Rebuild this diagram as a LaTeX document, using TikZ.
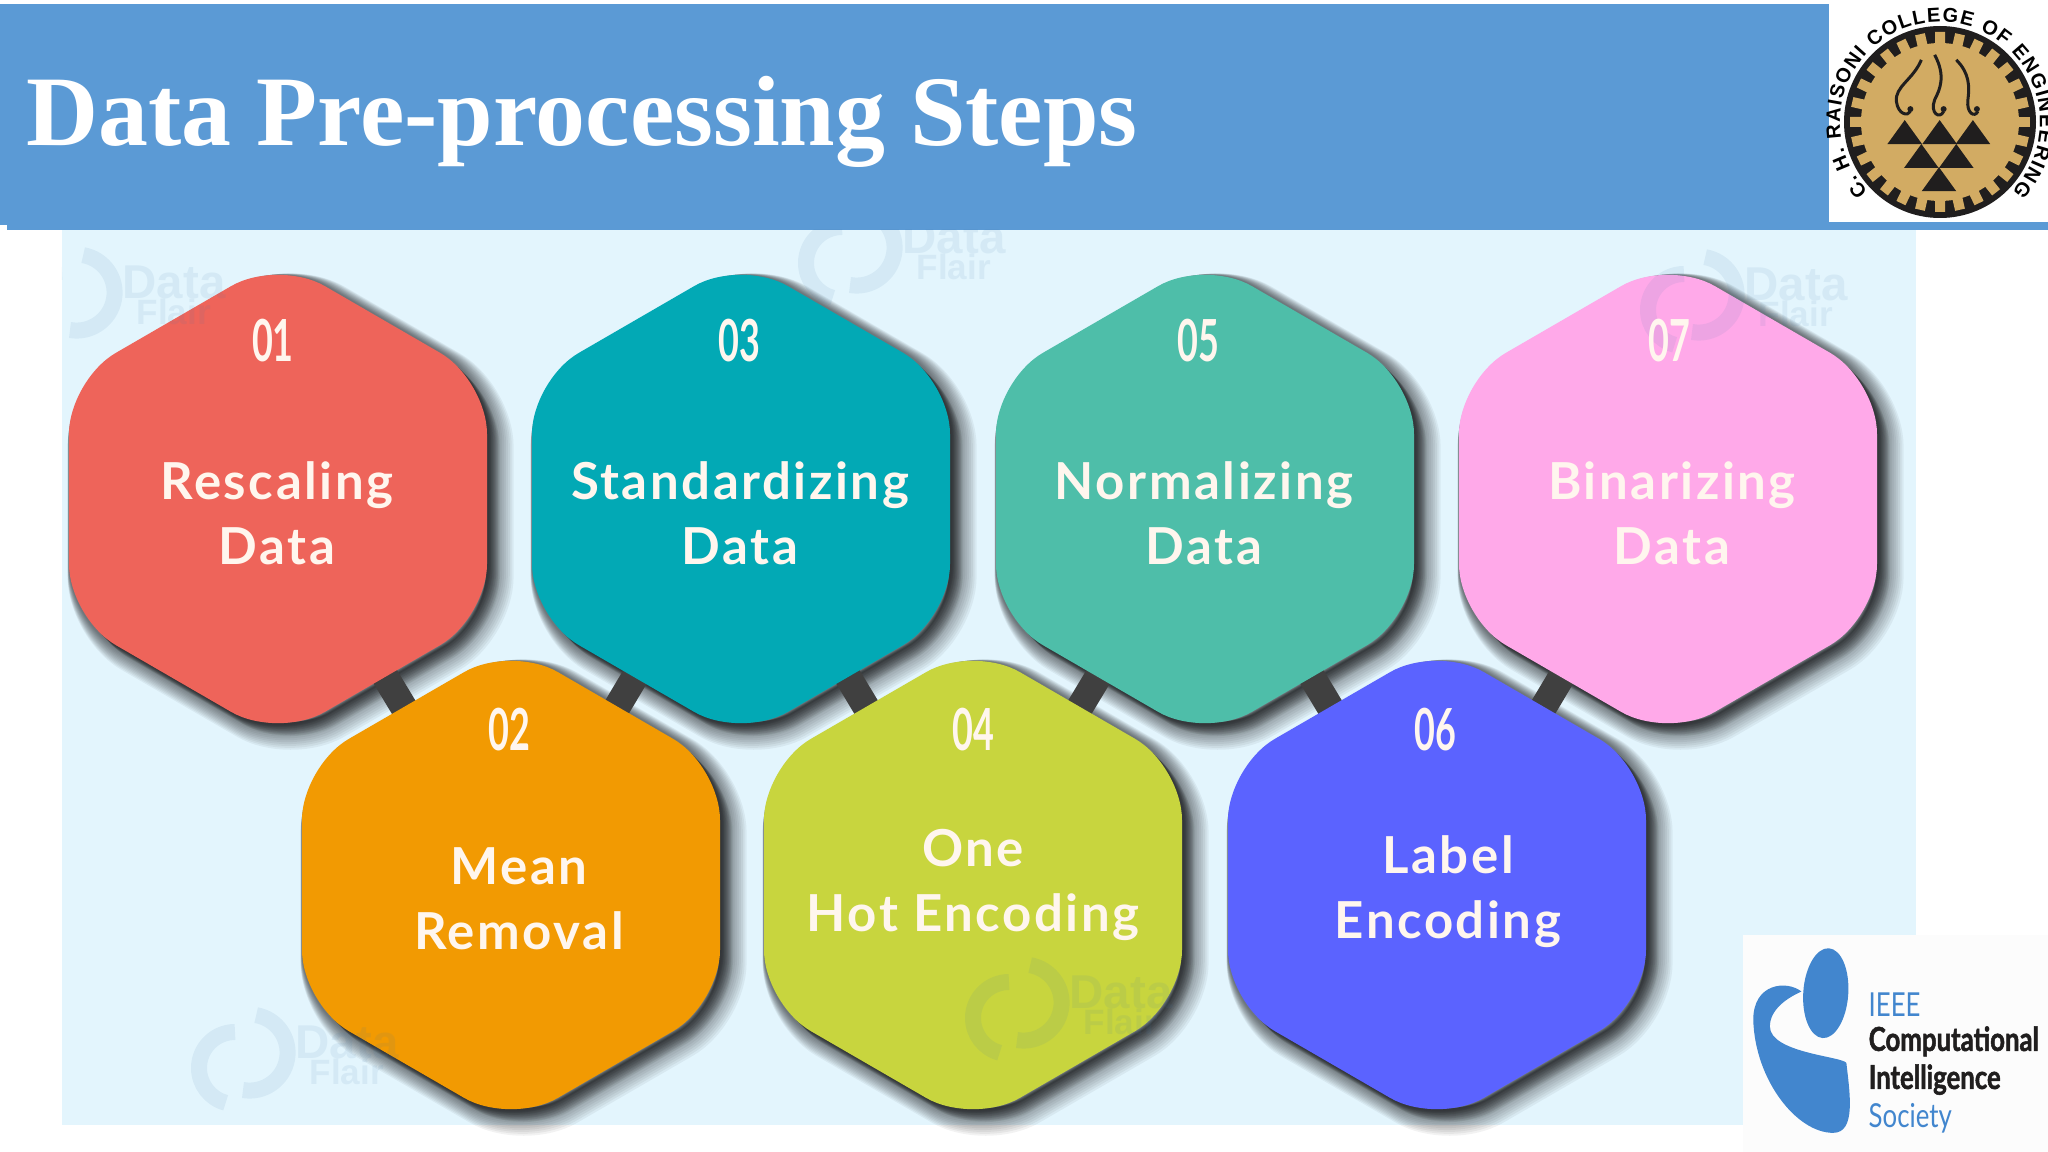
\documentclass[tikz,border=0pt]{standalone}
\usepackage{fontspec}
\usetikzlibrary{arrows.meta,positioning,calc,decorations.text}
\setmainfont{Liberation Serif}
\newfontfamily\hexfont[LetterSpace=5]{Lato}
\newfontfamily\numfont[FakeStretch=.62]{Lato}
\newfontfamily\ieeefont[FakeStretch=.78,BoldFeatures={FakeBold=1.5}]{Lato}
\newfontfamily\markfont{Liberation Sans}
\definecolor{Banner}{HTML}{5B9AD5}
\definecolor{Sky}{HTML}{E3F5FD}
\definecolor{Coral}{HTML}{EE645A}
\definecolor{Orange}{HTML}{F29A02}
\definecolor{Cyan}{HTML}{02A9B5}
\definecolor{Lime}{HTML}{C8D53E}
\definecolor{Jade}{HTML}{4EBEA9}
\definecolor{Violet}{HTML}{5B63FF}
\definecolor{Pink}{HTML}{FFA9E9}
\definecolor{Bar}{HTML}{404040}
\definecolor{Gold}{HTML}{D2AB63}
\definecolor{Ink}{HTML}{201E1E}
\definecolor{Mark}{HTML}{3F78A8}
\definecolor{LogoBlue}{HTML}{4286CE}
\definecolor{Cream}{HTML}{FFF6EE}
\newcommand{\hexpath}[1]{(#1) ++(0,-2.40) -- ++(2.09,1.21) -- ++(0,2.38) -- ++(-2.09,1.21) -- ++(-2.09,-1.21) -- ++(0,-2.38) -- cycle}
\tikzset{
 hexfill/.style={rounded corners=.54cm},
 hexshadow/.style={rounded corners=.54cm,draw=black,fill=black,line join=round,opacity=.05},
 link/.style={draw=Bar,line width=.27cm},
 hexnum/.style={font=\numfont\bfseries\fontsize{16.5}{18}\selectfont,text=Cream,inner sep=0pt},
 hexlabel/.style={font=\hexfont\bfseries\fontsize{14.5}{18.5}\selectfont,text=Cream,align=center,inner sep=0pt},
 marktext/.style={text=Mark,text opacity=.09,inner sep=0pt},
 ieeeline/.style={anchor=west,inner sep=0pt,font=\ieeefont\bfseries\fontsize{9.4}{11}\selectfont},
 pics/wmark/.style={code={
  \draw[Mark,opacity=.09,line width=.16cm] (-.08,-.28) arc[start angle=90,end angle=255,radius=.36cm];
  \draw[Mark,opacity=.09,line width=.16cm] (0,.3) arc[start angle=-100,end angle=80,radius=.38cm];
  \node[marktext,font=\markfont\bfseries\fontsize{13.5}{14}\selectfont,anchor=west] (-data) at (.52,-.18) {Data};
  \node[marktext,font=\markfont\bfseries\fontsize{10}{11}\selectfont,anchor=west] (-flair) at (.66,.12) {Flair};
 }}
}
\begin{document}
\begin{tikzpicture}[x=1cm,y=-1cm]
\useasboundingbox (0,0) rectangle (20.48,11.52);
\fill[white] (0,0) rectangle (20.48,11.52);
\fill[Banner] (0,.04) rectangle (18.29,2.30);
\fill[Banner] (18.29,2.22) rectangle (20.48,2.30);
\fill[white] (0,2.25) rectangle (.07,2.30);
\fill[Sky] (.62,2.30) rectangle (19.16,11.25);
\node[anchor=base west,text=white,inner sep=0pt,font=\bfseries\fontsize{28.4}{30}\selectfont] (title) at (.26,1.46) {Data Pre-processing Steps};
\foreach \name/\x/\y in {h1/2.78/4.99,h2/5.11/8.85,h3/7.41/4.99,h4/9.73/8.85,h5/12.05/4.99,h6/14.37/8.85,h7/16.68/4.99} {
 \coordinate (\name) at (\x,\y);
 \foreach \w in {.28,.26,...,.02} {
  \pgfmathsetmacro{\off}{\w*.45}
  \path[hexshadow,line width=\w cm] \hexpath{[shift={(\off,\off)}]\name};
 }
}
\foreach \a/\b in {h1/h2,h2/h3,h3/h4,h4/h5,h5/h6,h6/h7} \draw[link] (\a) -- (\b);
\foreach \name/\col in {h1/Coral,h2/Orange,h3/Cyan,h4/Lime,h5/Jade,h6/Violet,h7/Pink}
 \fill[hexfill,\col] \hexpath{\name};
\begin{scope}
\clip (.62,2.30) rectangle (19.16,11.25);
\foreach \x/\y/\tag in {.7/3/wma,8.5/2.55/wmb,16.92/3.02/wmc,2.43/10.6/wmd,10.17/10.1/wme}
 \pic (\tag) at (\x,\y) {wmark};
\end{scope}
\foreach \tag/\x/\y/\num in {na/2.73/3.41/01,nb/5.09/7.30/02,nc/7.39/3.41/03,nd/9.73/7.30/04,ne/11.98/3.41/05,nf/14.35/7.30/06,ng/16.69/3.41/07}
 \node[hexnum] (\tag) at (\x,\y) {\num};
\foreach \tag/\x/\y/\txt in {ta/2.77/5.13/{Rescaling\\Data},tb/5.19/8.99/{Mean\\Removal},tc/7.40/5.13/{Standardizing\\Data},td/9.73/8.85/{One\\Hot Encoding},te/12.04/5.13/{Normalizing\\Data},tf/14.48/8.92/{Label\\Encoding},tg/16.72/5.13/{Binarizing\\Data}}
 \node[hexlabel] (\tag) at (\x,\y) {\txt};
\fill[white] (18.29,.04) rectangle (20.48,2.22);
\coordinate (logo) at (19.40,1.22);
\fill[Ink] (logo) circle[radius=.96cm];
\fill[Gold] (logo) circle[radius=.79cm];
\foreach \a in {0,12.857,...,359} \draw[Gold,line width=.1cm] (logo) ++(\a:.75cm) -- ++(\a:.15cm);
\path[decorate,decoration={text along path,text align={fit to path},text={|\markfont\bfseries\fontsize{5.7}{6}\selectfont|C. H. RAISONI COLLEGE OF ENGINEERING}}] (logo) ++(224:1.0cm) arc[start angle=224,end angle=-44,radius=1.0cm];
\begin{scope}[shift={(17.80,0)},x=.003333cm,y=-.003333cm]
\foreach \x/\y in {375/433,480/433,580/433,425/505,530/505,478/575}
 \fill[Ink] (\x-52,\y) -- (\x,\y-72) -- (\x+52,\y) -- cycle;
\foreach \x in {392,492,592} \fill[Ink] (\x,328) circle[radius=.03cm];
\draw[Ink,line width=.03cm] (425,180) .. controls (400,240) and (345,260) .. (350,305) .. controls (355,345) and (385,350) .. (392,335);
\draw[Ink,line width=.03cm] (465,165) .. controls (500,230) and (480,270) .. (465,300) .. controls (450,340) and (480,360) .. (492,335);
\draw[Ink,line width=.03cm] (530,180) .. controls (570,220) and (570,260) .. (565,300) .. controls (560,340) and (585,355) .. (595,335);
\end{scope}
\fill[white!99!black] (17.43,9.35) rectangle (20.48,11.52);
\begin{scope}[shift={(17.20,9.20)},x=.003333cm,y=-.003333cm]
\fill[LogoBlue,rotate around={-4:(318,220)}] (318,220) ellipse[x radius=.225cm,y radius=.45cm];
\fill[LogoBlue] (245,215) .. controls (200,180) and (100,190) .. (100,300) .. controls (105,480) and (230,640) .. (340,640) .. controls (410,640) and (390,520) .. (380,430) .. controls (370,410) and (150,400) .. (150,320) .. controls (150,270) and (200,235) .. (245,215) -- cycle;
\node[ieeeline,text=LogoBlue,font=\ieeefont\fontsize{9.4}{11}\selectfont] (ieee) at (445,255) {IEEE};
\node[ieeeline,text=Ink] (comp) at (445,365) {Computational};
\node[ieeeline,text=Ink] (intel) at (445,480) {Intelligence};
\node[ieeeline,text=LogoBlue,font=\ieeefont\fontsize{9.4}{11}\selectfont] (soc) at (445,595) {Society};
\end{scope}
\end{tikzpicture}
\end{document}
